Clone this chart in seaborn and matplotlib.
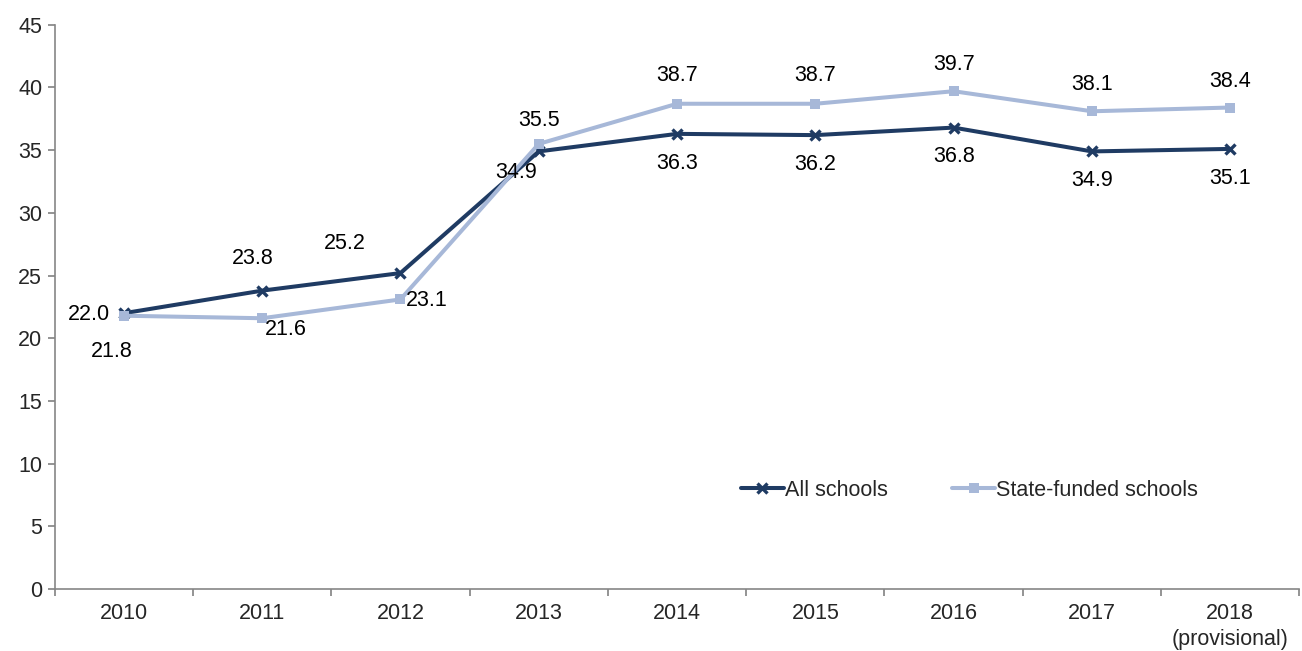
import matplotlib
matplotlib.use("Agg")
import matplotlib.pyplot as plt
from matplotlib.lines import Line2D
import seaborn as sns
import pandas as pd
import numpy as np

years = ["2010", "2011", "2012", "2013", "2014", "2015", "2016", "2017", "2018\n(provisional)"]
all_schools = [22.0, 23.8, 25.2, 34.9, 36.3, 36.2, 36.8, 34.9, 35.1]
state_funded = [21.8, 21.6, 23.1, 35.5, 38.7, 38.7, 39.7, 38.1, 38.4]

# label offsets in points (dx, dy, ha) for each series
all_offsets = [(-10, -1, "right"), (-7, 23, "center"), (-40, 21, "center"), (-16, -15, "center"),
               (0, -21, "center"), (0, -21, "center"), (0, -21, "center"), (0, -21, "center"), (0, -21, "center")]
state_offsets = [(-9, -26, "center"), (17, -8, "center"), (19, -1, "center"), (0, 17, "center"),
                 (0, 20, "center"), (0, 20, "center"), (0, 19, "center"), (0, 19, "center"), (0, 19, "center")]

sns.set_theme(style="white")
plt.rcParams["font.family"] = ["Liberation Sans", "DejaVu Sans"]

dark = "#1F3B63"
light = "#A7B8D8"
fs = 15.5

x = np.arange(len(years))
df = pd.DataFrame({
    "x": np.concatenate([x, x]),
    "value": all_schools + state_funded,
    "series": ["All schools"] * len(x) + ["State-funded schools"] * len(x),
})

fig, ax = plt.subplots(figsize=(13.02, 6.51), dpi=100)
fig.subplots_adjust(left=0.042, right=0.998, top=0.962, bottom=0.095)

sns.lineplot(data=df, x="x", y="value", hue="series",
             palette={"All schools": dark, "State-funded schools": light},
             hue_order=["All schools", "State-funded schools"],
             linewidth=2.9, legend=False, ax=ax)

# markers: a cross on the all-schools line, squares on the state-funded line
for line in ax.lines:
    c = matplotlib.colors.to_hex(line.get_color())
    if c == dark.lower():
        line.set_marker("x")
        line.set_markersize(7)
        line.set_markeredgewidth(2.4)
        line.set_markeredgecolor(dark)
    elif c == light.lower():
        line.set_marker("s")
        line.set_markersize(7.5)
        line.set_markeredgewidth(0)
        line.set_markerfacecolor(light)

for xi, v, (dx, dy, ha) in zip(x, all_schools, all_offsets):
    ax.annotate(f"{v:.1f}", (xi, v), xytext=(dx, dy), textcoords="offset points",
                ha=ha, va="center", fontsize=fs, color="#000000")
for xi, v, (dx, dy, ha) in zip(x, state_funded, state_offsets):
    ax.annotate(f"{v:.1f}", (xi, v), xytext=(dx, dy), textcoords="offset points",
                ha=ha, va="center", fontsize=fs, color="#000000")

ax.set_xlim(-0.5, len(years) - 0.5)
ax.set_ylim(0, 45)
ax.set_yticks(np.arange(0, 46, 5))
ax.tick_params(axis="y", which="major", direction="out", length=5, color="#868686",
               labelsize=fs, pad=4, left=True)

ax.set_xticks(np.arange(-0.5, len(years), 1.0))
ax.set_xticklabels([])
ax.set_xticks(x, minor=True)
ax.set_xticklabels(years, minor=True, fontsize=fs, linespacing=1.3)
ax.tick_params(axis="x", which="major", direction="out", length=5, color="#868686", bottom=True)
ax.tick_params(axis="x", which="minor", length=0, pad=10)

for s in ["top", "right"]:
    ax.spines[s].set_visible(False)
for s in ["left", "bottom"]:
    ax.spines[s].set_color("#868686")
    ax.spines[s].set_linewidth(1.2)

ax.set_xlabel("")
ax.set_ylabel("")

handles = [
    Line2D([], [], color=dark, lw=2.9, marker="x", markersize=7, markeredgewidth=2.4),
    Line2D([], [], color=light, lw=2.9, marker="s", markersize=7.5, markeredgewidth=0),
]
ax.legend(handles, ["All schools", "State-funded schools"], ncol=2, frameon=False,
          loc="center", bbox_to_anchor=(0.735, 0.175), fontsize=fs,
          handlelength=2.0, handletextpad=0.05, columnspacing=3.0)

fig.savefig("out.png", dpi=100)
